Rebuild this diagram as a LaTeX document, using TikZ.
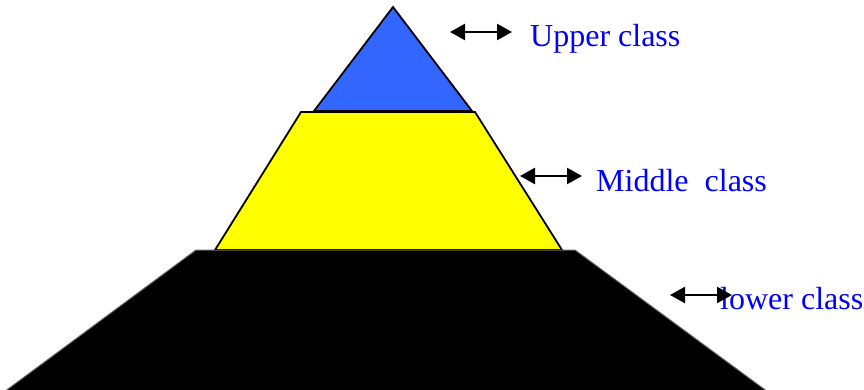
\documentclass[tikz,border=0pt]{standalone}
\usepackage{fontspec}
\setmainfont{Liberation Serif}
\usetikzlibrary{arrows.meta}
\definecolor{tierblue}{RGB}{51,102,255}
\definecolor{tieryellow}{RGB}{255,255,0}
\definecolor{labelblue}{RGB}{0,0,255}
\tikzset{
  tier/.style={draw=black, line width=1.8pt, line join=miter},
  pointer/.style={black, line width=2.4pt, {Triangle[length=15pt,width=16pt]}-{Triangle[length=15pt,width=16pt]}},
  classlabel/.style={anchor=base west, inner sep=0pt, text=labelblue, font=\fontsize{32}{38}\selectfont}
}
\begin{document}
\begin{tikzpicture}[x=1pt,y=-1pt]
\useasboundingbox (0,0) rectangle (864,390);
% tiers
\path[tier, fill=tierblue] (393,7) -- (472,111) -- (314,111) -- cycle;
\path[tier, fill=tieryellow] (301,112) -- (475,112) -- (562,250) -- (215,250) -- cycle;
\path[fill=black, draw=black!60, line width=1pt] (196,250) -- (575,250) -- (768,392) -- (4,392) -- cycle;
% labels
\node[classlabel] (upper) at (530,47) {Upper class};
\node[classlabel] (middle) at (596,191) {Middle\ \ class};
\node[classlabel] (lower) at (720,309) {lower class};
% pointers
\coordinate (u1) at (450,32);
\coordinate (u2) at (512,32);
\coordinate (m1) at (520,176);
\coordinate (m2) at (582,176);
\coordinate (l1) at (670,295);
\coordinate (l2) at (732,295);
\draw[pointer] (u1) -- (u2);
\draw[pointer] (m1) -- (m2);
\draw[pointer] (l1) -- (l2);
\end{tikzpicture}
\end{document}
